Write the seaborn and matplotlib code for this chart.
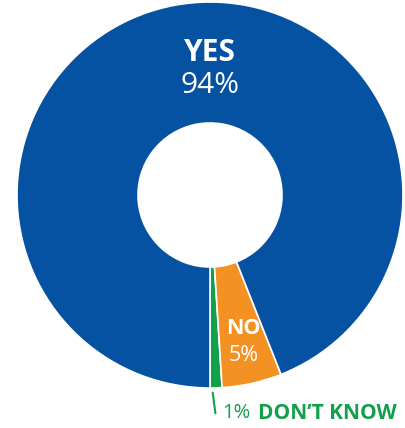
import matplotlib
matplotlib.use("Agg")
import matplotlib.pyplot as plt
import seaborn as sns

# Data
categories = ["DON'T KNOW", "NO", "YES"]
values = [1, 5, 94]
pct_labels = ["1%", "5%", "94%"]

sns.set_theme(style="white")
plt.rcParams['font.family'] = ['Open Sans', 'DejaVu Sans']

colors = ["#13A04A", "#F39223", "#0452A1"]

W, H = 405, 428
fig = plt.figure(figsize=(W / 100, H / 100), dpi=100)
cx, cy, R = 210, 195, 193
ax = fig.add_axes([(cx - R) / W, (H - cy - R) / H, 2 * R / W, 2 * R / H])
ax.pie(values, colors=colors, startangle=-90, counterclock=True, radius=1,
       wedgeprops=dict(width=1 - 72 / 193, edgecolor="white", linewidth=1.2))
ax.set_xlim(-1, 1)
ax.set_ylim(-1, 1)
ax.set_aspect("equal")
ax.axis("off")

# YES label
ax.text(0.0, 0.735, categories[2], ha="center", va="center", color="white",
        fontsize=21.5, fontweight="bold")
ax.text(0.0, 0.565, pct_labels[2], ha="center", va="center", color="white",
        fontsize=21.5, fontweight="normal")
# NO label
ax.text(0.175, -0.69, categories[1], ha="center", va="center", color="white",
        fontsize=15.5, fontweight="bold")
ax.text(0.175, -0.834, pct_labels[1], ha="center", va="center", color="white",
        fontsize=15.5, fontweight="normal")
# DON'T KNOW label with leader line
ax.plot([0.014, 0.028], [-1.024, -1.131], color=colors[0], lw=1.5, clip_on=False)
ax.text(0.062, -1.13, pct_labels[0], ha="left", va="center", color=colors[0],
        fontsize=14.5, fontweight="normal", clip_on=False)
ax.text(0.249, -1.13, categories[0].replace("'", "\u2019"), ha="left", va="center",
        color=colors[0], fontsize=15, fontweight="bold", clip_on=False)

fig.savefig("out.png", dpi=100)
